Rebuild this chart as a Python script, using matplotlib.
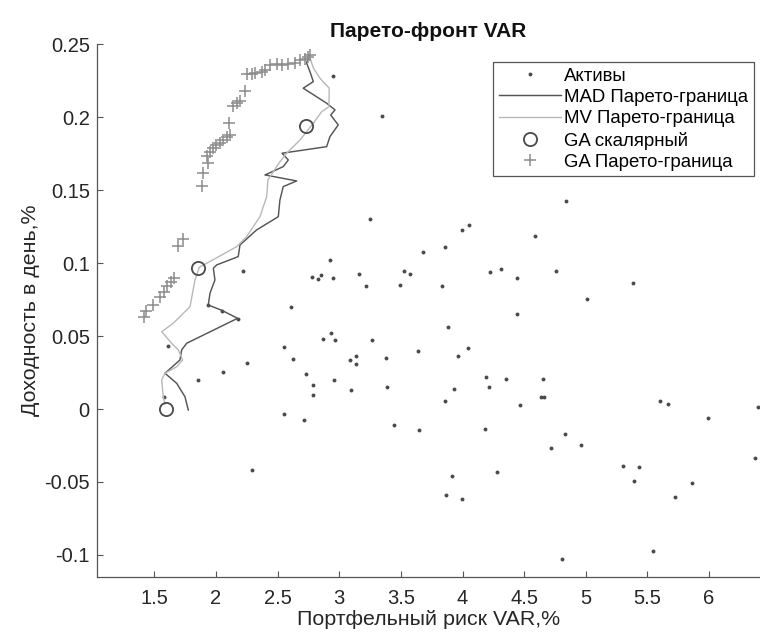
import matplotlib
matplotlib.use("Agg")
import matplotlib.pyplot as plt

plt.rcParams['font.family'] = ['Liberation Sans', 'DejaVu Sans']

# Assets (VAR %, return %)
asset_x = [2.952, 3.249, 2.222, 2.922, 2.781, 2.825, 2.849, 2.952, 3.160, 3.214,
           2.606, 1.938, 2.047, 2.176, 1.609, 2.931, 2.868, 2.963, 3.266, 2.552,
           2.622, 2.254, 3.085, 3.138, 3.136, 2.060, 2.733, 1.857, 2.955, 2.790,
           2.790, 3.098, 1.579, 2.552, 2.712, 3.347, 4.050, 3.996, 3.860, 3.679,
           3.525, 3.576, 3.490, 3.831, 4.225, 4.309, 3.879, 3.382, 3.387, 3.639,
           3.961, 4.047, 3.933, 3.858, 4.188, 4.217, 4.355, 4.185, 3.444, 3.649,
           2.290, 3.917, 3.863, 3.996, 4.282, 4.839, 4.585, 4.444, 4.755, 5.385,
           5.012, 4.442, 4.652, 4.463, 4.639, 4.663, 5.601, 5.669, 6.394, 5.993,
           4.833, 4.717, 4.958, 6.369, 5.301, 5.429, 5.388, 5.861, 5.726, 5.542,
           4.807]
asset_y = [0.2284, 0.1303, 0.0944, 0.1020, 0.0903, 0.0894, 0.0919, 0.0896, 0.0926, 0.0846,
           0.0697, 0.0711, 0.0674, 0.0619, 0.0430, 0.0523, 0.0480, 0.0471, 0.0471, 0.0427,
           0.0343, 0.0318, 0.0334, 0.0366, 0.0306, 0.0254, 0.0242, 0.0197, 0.0199, 0.0167,
           0.0094, 0.0130, 0.0084, -0.0034, -0.0078, 0.2012, 0.1264, 0.1228, 0.1111, 0.1077,
           0.0947, 0.0928, 0.0850, 0.0846, 0.0940, 0.0958, 0.0562, 0.0350, 0.0153, 0.0398,
           0.0364, 0.0421, 0.0137, 0.0053, 0.0217, 0.0149, 0.0206, -0.0137, -0.0112, -0.0146,
           -0.0416, -0.0457, -0.0587, -0.0620, -0.0430, 0.1429, 0.1189, 0.0896, 0.0944, 0.0862,
           0.0752, 0.0652, 0.0208, 0.0025, 0.0084, 0.0082, 0.0055, 0.0032, 0.0016, -0.0062,
           -0.0169, -0.0265, -0.0249, -0.0334, -0.0393, -0.0400, -0.0492, -0.0510, -0.0604, -0.0976,
           -0.1027]

# MAD Pareto frontier
mad_x = [1.776, 1.749, 1.682, 1.587, 1.708, 1.722, 1.763, 2.176, 2.047, 1.938,
         1.952, 1.992, 1.979, 2.006, 2.181, 2.195, 2.330, 2.506, 2.519, 2.546,
         2.655, 2.398, 2.546, 2.587, 2.536, 2.898, 2.925, 2.992, 2.931, 2.966,
         2.898, 2.708, 2.790, 2.763, 2.736, 2.749]
mad_y = [-0.0007, 0.0084, 0.0176, 0.0245, 0.0336, 0.0405, 0.0451, 0.0622, 0.0677, 0.0713,
         0.0794, 0.0885, 0.0965, 0.0988, 0.1045, 0.1125, 0.1228, 0.1319, 0.1433, 0.1525,
         0.1564, 0.1605, 0.1662, 0.1708, 0.1754, 0.1799, 0.1868, 0.1948, 0.2016, 0.2051,
         0.2097, 0.2200, 0.2245, 0.2313, 0.2371, 0.2421]

# MV Pareto frontier
mv_x = [1.587, 1.573, 1.560, 1.587, 1.682, 1.730, 1.695, 1.641, 1.560, 1.654,
        1.790, 1.830, 1.865, 1.925, 2.168, 2.249, 2.357, 2.412, 2.422, 2.519,
        2.574, 2.682, 2.790, 2.858, 2.917, 2.919, 2.844, 2.790, 2.763]
mv_y = [0.0034, 0.0084, 0.0199, 0.0245, 0.0290, 0.0336, 0.0405, 0.0451, 0.0530, 0.0588,
        0.0702, 0.0885, 0.0972, 0.0999, 0.1113, 0.1182, 0.1319, 0.1456, 0.1571, 0.1696,
        0.1754, 0.1845, 0.1960, 0.2039, 0.2073, 0.2200, 0.2268, 0.2339, 0.2407]

# GA scalar solutions
gas_x = [2.730, 1.857, 1.595]
gas_y = [0.1943, 0.0967, 0.0000]

# GA Pareto frontier
gap_x = [2.249, 2.290, 2.317, 2.371, 2.398, 2.439, 2.493, 2.533, 2.587, 2.641,
         2.682, 2.723, 2.750, 2.763, 2.238, 2.141, 2.168, 2.195, 2.108, 2.114,
         2.087, 2.060, 2.033, 2.000, 1.979, 1.952, 1.925, 1.938, 1.897, 1.884,
         1.735, 1.690, 1.660, 1.633, 1.605, 1.582, 1.545, 1.490, 1.432, 1.413]
gap_y = [0.2296, 0.2300, 0.2307, 0.2314, 0.2324, 0.2360, 0.2365, 0.2360, 0.2365, 0.2376,
         0.2392, 0.2399, 0.2414, 0.2428, 0.2180, 0.2080, 0.2100, 0.2110, 0.1960, 0.1879,
         0.1864, 0.1845, 0.1827, 0.1811, 0.1788, 0.1765, 0.1735, 0.1685, 0.1617, 0.1529,
         0.1164, 0.1115, 0.0895, 0.0870, 0.0842, 0.0800, 0.0770, 0.0715, 0.0670, 0.0630]

xticks = [1.5, 2, 2.5, 3, 3.5, 4, 4.5, 5, 5.5, 6]
xticklabels = ['1.5', '2', '2.5', '3', '3.5', '4', '4.5', '5', '5.5', '6']
yticks = [-0.1, -0.05, 0, 0.05, 0.1, 0.15, 0.2, 0.25]
yticklabels = ['-0.1', '-0.05', '0', '0.05', '0.1', '0.15', '0.2', '0.25']

fig = plt.figure(figsize=(7.6, 6.39), dpi=100)
ax = fig.add_axes([96.7 / 760, 62.3 / 639, 1 - 96.7 / 760, 595 / 639 - 62.3 / 639])

ax.plot(asset_x, asset_y, linestyle='none', marker='o', markersize=2.8,
        color='#4a4a4a', markeredgewidth=0, label='Активы')
ax.plot(mad_x, mad_y, color='#555555', linewidth=1.05, label='MAD Парето-граница')
ax.plot(mv_x, mv_y, color='#b8b8b8', linewidth=1.0, label='MV Парето-граница')
ax.plot(gas_x, gas_y, linestyle='none', marker='o', markersize=9.5,
        markerfacecolor='none', markeredgecolor='#4a4a4a', markeredgewidth=1.3,
        label='GA скалярный')
ax.plot(gap_x, gap_y, linestyle='none', marker='+', markersize=8,
        color='#8c8c8c', markeredgewidth=1.1, label='GA Парето-граница')

ax.set_xlim(1.033, 6.413)
ax.set_ylim(-0.115, 0.2503)
ax.set_xticks(xticks)
ax.set_xticklabels(xticklabels)
ax.set_yticks(yticks)
ax.set_yticklabels(yticklabels)
ax.tick_params(direction='in', length=4, width=0.8, color='#555555',
               labelsize=14.5, labelcolor='#262626')
ax.tick_params(axis='x', pad=8.5)
ax.tick_params(axis='y', pad=5)
for s in ['top', 'right']:
    ax.spines[s].set_visible(False)
for s in ['left', 'bottom']:
    ax.spines[s].set_color('#555555')
    ax.spines[s].set_linewidth(0.9)

ax.set_title('Парето-фронт VAR', fontsize=15, fontweight='bold', color='#111111', pad=5)
ax.set_xlabel('Портфельный риск VAR,%', fontsize=15.4, color='#262626', labelpad=2)
ax.set_ylabel('Доходность в день,%', fontsize=15.4, color='#262626', labelpad=3)

leg = ax.legend(loc='upper right', bbox_to_anchor=(754 / 760, 1 - 62 / 639),
                bbox_transform=fig.transFigure, borderaxespad=0,
                fontsize=13.4, frameon=True, fancybox=False, framealpha=1,
                edgecolor='#555555', handlelength=3.33, handletextpad=0.2,
                labelspacing=0.23, borderpad=0.3)
leg.get_frame().set_linewidth(0.9)

fig.savefig('out.png', dpi=100)
